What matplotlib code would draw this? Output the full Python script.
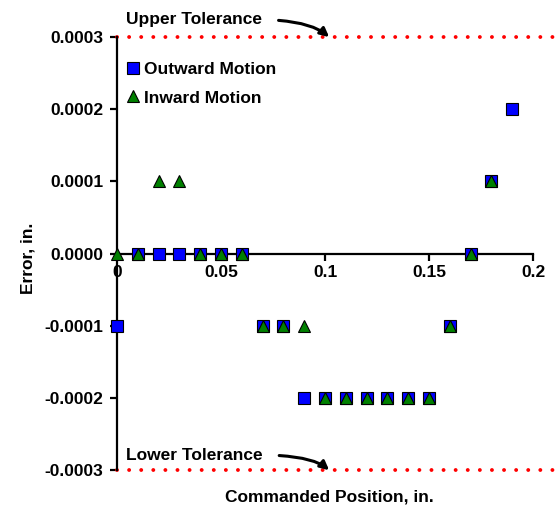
import numpy as np
import matplotlib.pyplot as plt

plt.rcParams['font.family'] = ['Liberation Sans', 'DejaVu Sans']
plt.rcParams['font.weight'] = 'bold'

# commanded positions and measured errors (in.)
pos_out = [0.00, 0.01, 0.02, 0.03, 0.04, 0.05, 0.06, 0.07, 0.08, 0.09,
           0.10, 0.11, 0.12, 0.13, 0.14, 0.15, 0.16, 0.17, 0.18, 0.19]
err_out = [-0.0001, 0.0, 0.0, 0.0, 0.0, 0.0, 0.0, -0.0001, -0.0001, -0.0002,
           -0.0002, -0.0002, -0.0002, -0.0002, -0.0002, -0.0002, -0.0001, 0.0, 0.0001, 0.0002]

pos_in = [0.00, 0.01, 0.02, 0.03, 0.04, 0.05, 0.06, 0.07, 0.08, 0.09,
          0.10, 0.11, 0.12, 0.13, 0.14, 0.15, 0.16, 0.17, 0.18]
err_in = [0.0, 0.0, 0.0001, 0.0001, 0.0, 0.0, 0.0, -0.0001, -0.0001, -0.0001,
          -0.0002, -0.0002, -0.0002, -0.0002, -0.0002, -0.0002, -0.0001, 0.0, 0.0001]

upper_tol = 0.0003
lower_tol = -0.0003

xticks = [0, 0.05, 0.1, 0.15, 0.2]
xtick_labels = ['0', '0.05', '0.1', '0.15', '0.2']
yticks = [-0.0003, -0.0002, -0.0001, 0.0, 0.0001, 0.0002, 0.0003]

FS = 12.5

fig = plt.figure(figsize=(5.57, 5.15), dpi=100)
ax = fig.add_axes([0.210, 0.087, 0.747, 0.841])

ax.plot(pos_out, err_out, 's', color='#0000ff', markeredgecolor='black',
        markeredgewidth=0.8, markersize=8, label='Outward Motion', clip_on=False, zorder=3)
ax.plot(pos_in, err_in, '^', color='#008000', markeredgecolor='black',
        markeredgewidth=0.8, markersize=8.5, label='Inward Motion', clip_on=False, zorder=4)

# tolerance bands, running a little past the last tick
for tol in (upper_tol, lower_tol):
    ax.plot([0, 0.2115], [tol, tol], color='red', linewidth=2.8,
            linestyle=(0, (0.01, 3.1)), dash_capstyle='round', clip_on=False, zorder=2)

ax.set_xlim(0, 0.2)
ax.set_ylim(lower_tol, upper_tol)

ax.spines['top'].set_visible(False)
ax.spines['right'].set_visible(False)
ax.spines['bottom'].set_position(('data', 0))
ax.spines['left'].set_linewidth(1.6)
ax.spines['bottom'].set_linewidth(1.6)

ax.set_xticks(xticks)
ax.set_xticklabels(xtick_labels)
ax.set_yticks(yticks)
ax.set_yticklabels(['%.4f' % v for v in yticks])
ax.tick_params(axis='both', direction='out', length=5, width=1.6, labelsize=FS)
ax.tick_params(axis='x', pad=3)
ax.tick_params(axis='y', pad=5)

ax.set_xlabel('Commanded Position, in.', fontsize=FS, fontweight='bold')
ax.set_ylabel('Error, in.', fontsize=FS, fontweight='bold')
ax.xaxis.set_label_coords(0.51, -0.045)
ax.yaxis.set_label_coords(-0.195, 0.49)

arrow = dict(arrowstyle='-|>', color='black', lw=2.2, mutation_scale=13,
             connectionstyle='angle3,angleA=0,angleB=-40', relpos=(1.0, 0.5),
             shrinkA=10, shrinkB=0)
ax.annotate('Upper Tolerance', xy=(0.102, upper_tol), xytext=(0.0043, 0.000324),
            fontsize=FS, fontweight='bold', va='center', ha='left', annotation_clip=False,
            arrowprops=arrow)
ax.annotate('Lower Tolerance', xy=(0.102, lower_tol), xytext=(0.0043, -0.000279),
            fontsize=FS, fontweight='bold', va='center', ha='left', annotation_clip=False,
            arrowprops=arrow)

ax.legend(loc='upper left', bbox_to_anchor=(-0.015, 0.97), frameon=False,
          fontsize=FS, handletextpad=0.0, handlelength=1.2, labelspacing=0.75,
          borderaxespad=0.3)

fig.savefig('out.png', dpi=100)
